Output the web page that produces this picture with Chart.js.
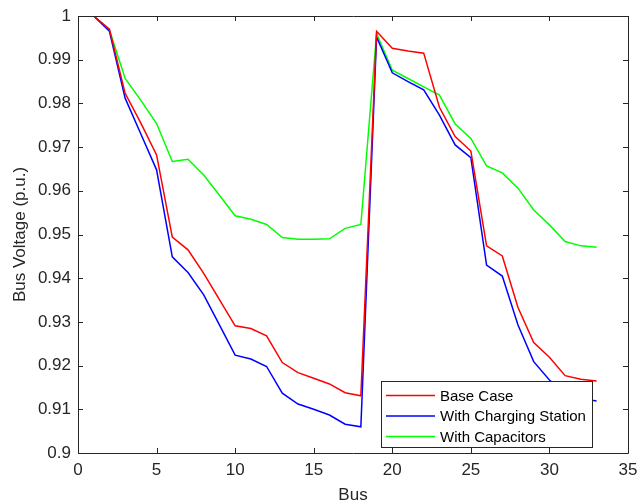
<!DOCTYPE html>
<html>
<head>
<meta charset="utf-8">
<script src="https://cdn.jsdelivr.net/npm/chart.js@4/dist/chart.umd.min.js"></script>
<style>
  html, body { margin: 0; padding: 0; background: #fff; }
  #wrap { width: 639px; height: 502px; position: relative; }
</style>
</head>
<body>
<div id="wrap"><canvas id="chart" width="639" height="502"></canvas></div>
<script>
// bus numbers 1..33
const buses = [1,2,3,4,5,6,7,8,9,10,11,12,13,14,15,16,17,18,19,20,21,22,23,24,25,26,27,28,29,30,31,32,33];

const baseCase = [1.0, 0.9970, 0.9823, 0.9755, 0.9682, 0.9494, 0.9465, 0.9411, 0.9351, 0.9291,
  0.9285, 0.9268, 0.9207, 0.9184, 0.9171, 0.9158, 0.9138, 0.9131, 0.9965, 0.9926,
  0.9920, 0.9915, 0.9791, 0.9724, 0.9691, 0.9474, 0.9451, 0.9333, 0.9253, 0.9219,
  0.9177, 0.9169, 0.9165];

const withCharging = [1.0, 0.9965, 0.9812, 0.9730, 0.9648, 0.9449, 0.9413, 0.9362, 0.9293, 0.9224,
  0.9215, 0.9198, 0.9137, 0.9112, 0.9100, 0.9087, 0.9066, 0.9060, 0.9952, 0.9870,
  0.9850, 0.9831, 0.9773, 0.9705, 0.9676, 0.9430, 0.9405, 0.9293, 0.9209, 0.9167,
  0.9136, 0.9125, 0.9119];

const withCapacitors = [1.0, 0.9968, 0.9857, 0.9807, 0.9754, 0.9667, 0.9672, 0.9636, 0.9590, 0.9543,
  0.9535, 0.9523, 0.9493, 0.9489, 0.9489, 0.9490, 0.9514, 0.9523, 0.9960, 0.9876,
  0.9857, 0.9838, 0.9819, 0.9753, 0.9720, 0.9657, 0.9641, 0.9606, 0.9556, 0.9522,
  0.9484, 0.9474, 0.9471];

const seriesNames = ["Base Case", "With Charging Station", "With Capacitors"];
const seriesColors = ["#ff0000", "#0000ff", "#00ff00"];

const FONT = "'Liberation Sans', Arial, sans-serif";
const AXIS = "#262626";

function toPoints(vals) {
  return buses.map((b, i) => ({ x: b, y: vals[i] }));
}

// box frame + inward ticks on all four sides (matlab look)
const frameTicks = {
  id: "frameTicks",
  afterDatasetsDraw(chart) {
    const { ctx, chartArea: a, scales } = chart;
    ctx.save();
    ctx.strokeStyle = AXIS;
    ctx.lineWidth = 1;
    ctx.beginPath();
    ctx.rect(Math.round(a.left) + 0.5, Math.round(a.top) + 0.5,
      Math.round(a.right - a.left), Math.round(a.bottom - a.top));
    ctx.stroke();
    const len = 5;
    ctx.beginPath();
    scales.x.ticks.forEach(t => {
      const px = Math.round(scales.x.getPixelForValue(t.value)) + 0.5;
      ctx.moveTo(px, a.bottom); ctx.lineTo(px, a.bottom - len);
      ctx.moveTo(px, a.top); ctx.lineTo(px, a.top + len);
    });
    scales.y.ticks.forEach(t => {
      const py = Math.round(scales.y.getPixelForValue(t.value)) + 0.5;
      ctx.moveTo(a.left, py); ctx.lineTo(a.left + len, py);
      ctx.moveTo(a.right, py); ctx.lineTo(a.right - len, py);
    });
    ctx.stroke();
    ctx.restore();
  }
};

// legend box in the lower right of the plot
const boxLegend = {
  id: "boxLegend",
  afterDraw(chart) {
    const { ctx } = chart;
    const x0 = 381, y0 = 381, w = 211, h = 66;
    ctx.save();
    ctx.fillStyle = "#fff";
    ctx.fillRect(x0, y0, w, h);
    ctx.strokeStyle = AXIS;
    ctx.lineWidth = 1;
    ctx.strokeRect(x0 + 0.5, y0 + 0.5, w, h);
    ctx.font = "15px " + FONT;
    ctx.textBaseline = "middle";
    chart.data.datasets.forEach((ds, i) => {
      const yy = y0 + 14.5 + i * 20.5;
      ctx.strokeStyle = ds.borderColor;
      ctx.lineWidth = 1.5;
      ctx.beginPath();
      ctx.moveTo(386, yy); ctx.lineTo(435, yy);
      ctx.stroke();
      ctx.fillStyle = "#000";
      ctx.fillText(ds.label, 440, yy + 1);
    });
    ctx.restore();
  }
};

new Chart(document.getElementById("chart"), {
  type: "line",
  data: {
    datasets: [
      { label: seriesNames[0], data: toPoints(baseCase), borderColor: seriesColors[0] },
      { label: seriesNames[1], data: toPoints(withCharging), borderColor: seriesColors[1] },
      { label: seriesNames[2], data: toPoints(withCapacitors), borderColor: seriesColors[2] }
    ]
  },
  options: {
    responsive: false,
    animation: false,
    layout: { padding: { left: 0, right: 11, top: 16, bottom: 0 } },
    elements: {
      line: { borderWidth: 1.5, tension: 0 },
      point: { radius: 0 }
    },
    plugins: {
      legend: { display: false },
      tooltip: { enabled: false }
    },
    scales: {
      x: {
        type: "linear",
        min: 0, max: 35,
        ticks: { stepSize: 5, color: AXIS, font: { family: FONT, size: 17 }, padding: 7, maxRotation: 0 },
        grid: { display: false, drawTicks: false },
        border: { display: false },
        title: { display: true, text: "Bus", color: AXIS, font: { family: FONT, size: 17 }, padding: { top: 0, bottom: -4 } },
        afterFit(s) {
          s.height = 49;
          // let the "35" label hang past the plot edge like matlab does
          s.paddingLeft = 0;
          s.paddingRight = 0;
        }
      },
      y: {
        min: 0.9, max: 1,
        ticks: {
          stepSize: 0.01, color: AXIS, font: { family: FONT, size: 17 }, padding: 7,
          callback: v => String(Number(v.toFixed(2)))
        },
        grid: { display: false, drawTicks: false },
        border: { display: false },
        title: { display: true, text: "Bus Voltage (p.u.)", color: AXIS, font: { family: FONT, size: 17 }, padding: { top: 10, bottom: 0 } },
        afterFit(s) {
          s.width = 78;
          s.paddingTop = 0;
          s.paddingBottom = 0;
        }
      }
    }
  },
  plugins: [frameTicks, boxLegend]
});
</script>
</body>
</html>
